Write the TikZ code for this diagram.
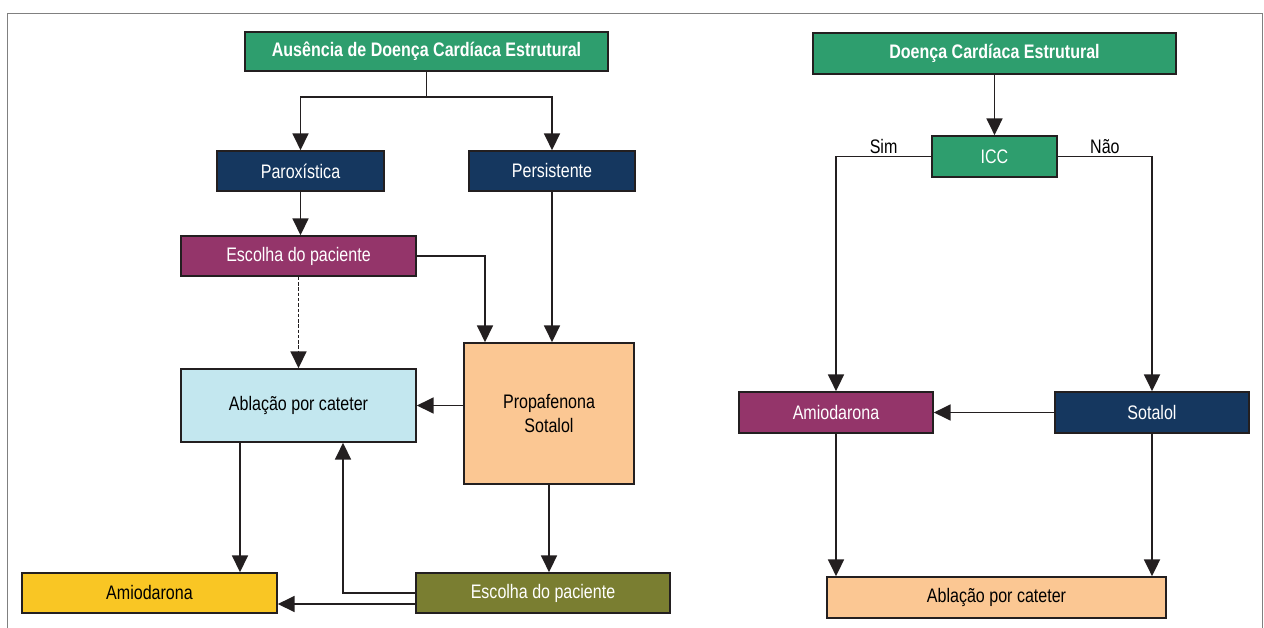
\documentclass[tikz,border=0pt]{standalone}
\usepackage{fontspec}
\setmainfont{Liberation Sans}[FakeStretch=0.82]
\usetikzlibrary{arrows.meta,positioning,calc}
\definecolor{cgreen}{HTML}{2E9E6E}
\definecolor{cnavy}{HTML}{15375F}
\definecolor{cpurple}{HTML}{94356A}
\definecolor{cblue}{HTML}{C3E7EF}
\definecolor{cpeach}{HTML}{FBC793}
\definecolor{cyellow}{HTML}{F9C624}
\definecolor{colive}{HTML}{7A7E31}
\definecolor{cline}{HTML}{231F20}
\tikzset{
  box/.style={draw=cline, line width=1.5pt, inner sep=0pt, align=center,
    font=\fontsize{16.7}{20}\selectfont},
  darkbox/.style={box, text=white},
  arr/.style={draw=cline, line width=1.5pt, -{Triangle[length=0.5cm, width=0.48cm]}},
}
\begin{document}
\begin{tikzpicture}[x=0.03cm, y=-0.03cm]
  \useasboundingbox (0,0) rectangle (1264,628);
  \draw[gray, line width=0.8pt] (1264,640) -- (7,640) |- (1262,13) -- (1262,640);
  % left flowchart
  \node[darkbox, fill=cgreen, minimum width=10.89cm, minimum height=1.17cm, font=\fontsize{16.7}{20}\selectfont\bfseries] (aus) at (426.5,51.5) {Ausência de Doença Cardíaca Estrutural};
  \node[darkbox, fill=cnavy, minimum width=5.01cm, minimum height=1.2cm] (parox) at (300.5,171) {Paroxística};
  \node[darkbox, fill=cnavy, minimum width=4.98cm, minimum height=1.2cm] (persist) at (552,171) {Persistente};
  \node[darkbox, fill=cpurple, minimum width=7.05cm, minimum height=1.2cm] (escolhaA) at (298.5,256) {Escolha do paciente};
  \node[box, fill=cpeach, minimum width=5.1cm, minimum height=4.23cm] (propa) at (549,413.5) {Propafenona\\Sotalol};
  \node[box, fill=cblue, minimum width=7.05cm, minimum height=2.19cm] (ablA) at (298.5,405.5) {Ablação por cateter};
  \node[box, fill=cyellow, minimum width=7.65cm, minimum height=1.2cm] (amioA) at (149.5,593) {Amiodarona};
  \node[darkbox, fill=colive, minimum width=7.62cm, minimum height=1.2cm] (escolhaB) at (543,593) {Escolha do paciente};
  \draw[arr] (aus.south) -- ++(0,25) -| (parox.north);
  \draw[arr] (aus.south) -- ++(0,25) -| (persist.north);
  \draw[arr] (parox.south) -- (parox.south |- escolhaA.north);
  \draw[arr] (escolhaA.east) -| ([xshift=-1.92cm]propa.north);
  \draw[arr] (persist.south) -- (persist.south |- propa.north);
  \draw[arr, dash pattern=on 3pt off 1.5pt] (escolhaA.south) -- (ablA.north);
  \draw[arr] (propa.west |- ablA.east) -- (ablA.east);
  \draw[arr] ([xshift=-1.755cm]ablA.south) -- ([xshift=-1.755cm]ablA.south |- amioA.north);
  \draw[arr] (propa.south) -- (propa.south |- escolhaB.north);
  \draw[arr] (escolhaB.west) -| ([xshift=1.335cm]ablA.south);
  \draw[arr] ([yshift=-0.33cm]escolhaB.west) -- ([yshift=-0.33cm]amioA.east);
  % right flowchart
  \node[darkbox, fill=cgreen, minimum width=10.89cm, minimum height=1.23cm, font=\fontsize{16.7}{20}\selectfont\bfseries] (doenca) at (994.5,53.5) {Doença Cardíaca Estrutural};
  \node[darkbox, fill=cgreen, minimum width=3.75cm, minimum height=1.23cm] (icc) at (994.5,156.5) {ICC};
  \node[darkbox, fill=cpurple, minimum width=5.82cm, minimum height=1.23cm] (amioB) at (836,412.5) {Amiodarona};
  \node[darkbox, fill=cnavy, minimum width=5.82cm, minimum height=1.23cm] (sotalol) at (1152,412.5) {Sotalol};
  \node[box, fill=cpeach, minimum width=10.17cm, minimum height=1.23cm] (ablB) at (996.5,597.5) {Ablação por cateter};
  \draw[arr] (doenca.south) -- (icc.north);
  \draw[arr] (icc.west) -- node[above, font=\fontsize{16.7}{20}\selectfont, inner sep=2pt] {Sim} (icc.west -| amioB.north) -- (amioB.north);
  \draw[arr] (icc.east) -- node[above, font=\fontsize{16.7}{20}\selectfont, inner sep=2pt] {Não} (icc.east -| sotalol.north) -- (sotalol.north);
  \draw[arr] (sotalol.west) -- (amioB.east);
  \draw[arr] (amioB.south) -- (amioB.south |- ablB.north);
  \draw[arr] (sotalol.south) -- (sotalol.south |- ablB.north);
\end{tikzpicture}
\end{document}
